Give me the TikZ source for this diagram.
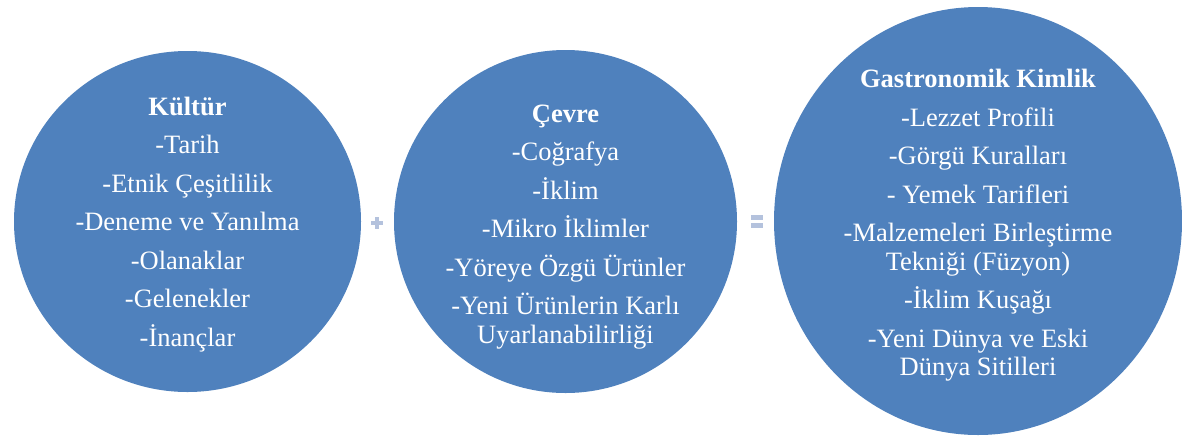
\documentclass[tikz,border=0pt]{standalone}
\usepackage{fontspec}
\setmainfont{Liberation Serif}
\usetikzlibrary{shapes.geometric}
\definecolor{cblue}{HTML}{4F81BD}
\definecolor{csign}{HTML}{B4C2DD}
\tikzset{
  disc/.style={ellipse, fill=cblue, draw=none, inner sep=0pt},
  txt/.style={text=white, align=center, inner sep=0pt,
    font=\fontsize{26.5}{28.5}\selectfont},
  sign/.style={fill=csign, draw=none}
}
\begin{document}
\begin{tikzpicture}[x=1pt,y=-1pt]
\useasboundingbox (0,0) rectangle (1182,437);
\fill[white] (0,0) rectangle (1182,437);
\node[disc, minimum width=347pt, minimum height=341pt] (kultur) at (187.5,221.5) {};
\node[disc, minimum width=343pt, minimum height=343pt] (cevre) at (565.5,221.5) {};
\node[disc, minimum width=408pt, minimum height=428pt] (gastro) at (978,221) {};
\node[txt] (kulturtxt) at (187.5,224.5) {\textbf{Kültür}\\[10pt]-Tarih\\[10pt]-Etnik Çeşitlilik\\[10pt]-Deneme ve Yanılma\\[10pt]-Olanaklar\\[10pt]-Gelenekler\\[10pt]-İnançlar};
\node[txt] (cevretxt) at (565.5,227) {\textbf{Çevre}\\[10pt]-Coğrafya\\[10pt]-İklim\\[10pt]-Mikro İklimler\\[10pt]-Yöreye Özgü Ürünler\\[10pt]-Yeni Ürünlerin Karlı\\Uyarlanabilirliği};
\node[txt] (gastrotxt) at (978,225.5) {\textbf{Gastronomik Kimlik}\\[10pt]-Lezzet Profili\\[10pt]-Görgü Kuralları\\[10pt]- Yemek Tarifleri\\[10pt]-Malzemeleri Birleştirme\\Tekniği (Füzyon)\\[10pt]-İklim Kuşağı\\[10pt]-Yeni Dünya ve Eski\\Dünya Sitilleri};
% plus sign
\fill[sign] (371,221) rectangle (383,225);
\fill[sign] (375,217) rectangle (379,229);
% equals sign
\fill[sign] (751,215) rectangle (763,220);
\fill[sign] (751,223) rectangle (763,228);
\end{tikzpicture}
\end{document}
